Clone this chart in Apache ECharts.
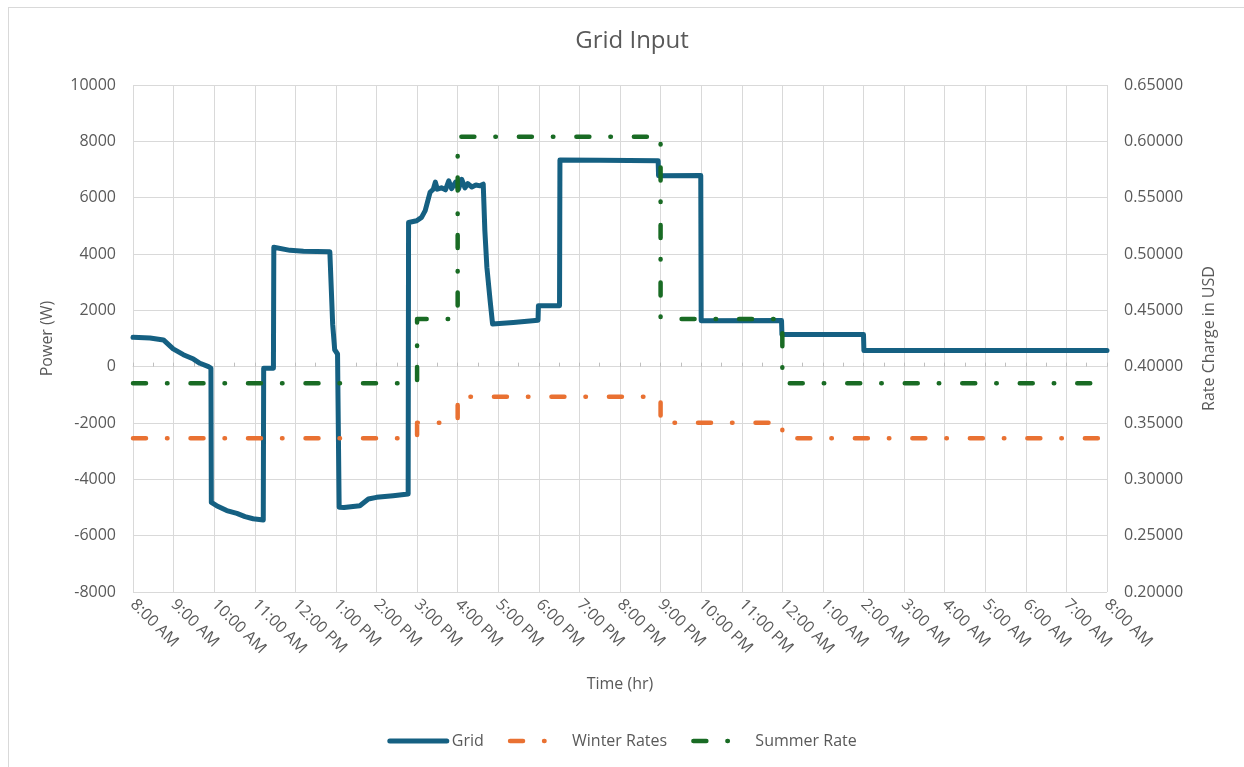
<!DOCTYPE html>
<html>
<head>
<meta charset="utf-8">
<title>Grid Input</title>
<script src="https://cdn.jsdelivr.net/npm/echarts@6/dist/echarts.min.js"></script>
<style>
  html, body { margin: 0; padding: 0; background: #fff; overflow: hidden; }
  #frame { position: absolute; left: 8px; top: 7px; width: 1300px; height: 800px; border: 1.5px solid #d9d9d9; }
  #main { position: absolute; left: 0; top: 0; width: 1244px; height: 767px; }
</style>
</head>
<body>
<div id="frame"></div>
<div id="main"></div>
<script>
// hour ticks, counted from 8:00 AM
var timeLabels = ['8:00 AM', '9:00 AM', '10:00 AM', '11:00 AM', '12:00 PM', '1:00 PM', '2:00 PM',
  '3:00 PM', '4:00 PM', '5:00 PM', '6:00 PM', '7:00 PM', '8:00 PM', '9:00 PM', '10:00 PM',
  '11:00 PM', '12:00 AM', '1:00 AM', '2:00 AM', '3:00 AM', '4:00 AM', '5:00 AM', '6:00 AM',
  '7:00 AM', '8:00 AM'];

// grid power (W), hours since 8:00 AM
var gridHours = [0, 0.42, 0.75, 0.99, 1.24, 1.49, 1.65, 1.86, 1.92, 1.93, 2.06, 2.31, 2.56, 2.76,
  2.96, 3.21, 3.22, 3.46, 3.47, 3.87, 4.2, 4.85, 4.92, 4.97, 5.04, 5.07, 5.08, 5.2, 5.59, 5.8,
  6.0, 6.41, 6.78, 6.79, 6.99, 7.11, 7.2, 7.32, 7.4, 7.45, 7.5, 7.6, 7.7, 7.78, 7.85, 7.95,
  8.02, 8.1, 8.18, 8.25, 8.35, 8.45, 8.55, 8.63, 8.67, 8.72, 8.8, 8.86, 9.37, 9.98, 9.99,
  10.51, 10.52, 11.5, 12.94, 12.95, 13.99, 14.0, 15.98, 15.99, 18.0, 18.01, 24];
var gridWatts = [1040, 1020, 950, 630, 425, 270, 120, 0, -50, -4820, -4935, -5110, -5210, -5325,
  -5400, -5440, -60, -60, 4240, 4130, 4100, 4080, 1500, 600, 450, 380, -4990, -5000, -4935, -4700,
  -4640, -4580, -4520, 5120, 5180, 5300, 5540, 6190, 6300, 6550, 6300, 6350, 6280, 6600, 6320, 6550,
  6300, 6650, 6350, 6500, 6380, 6450, 6420, 6480, 4830, 3530, 2340, 1515, 1570, 1650, 2165,
  2165, 7340, 7330, 7310, 6780, 6790, 1630, 1640, 1140, 1140, 570, 570];

// rate schedule (USD), hours since 8:00 AM
var rateHours = [0, 7, 7, 8, 8, 13, 13, 16, 16, 24];
var winterRates = [0.3364, 0.3364, 0.3503, 0.3503, 0.3733, 0.3733, 0.3503, 0.3503, 0.3364, 0.3364];
var summerRates = [0.3852, 0.3852, 0.4423, 0.4423, 0.6041, 0.6041, 0.4423, 0.4423, 0.3852, 0.3852];

function pairs(xs, ys) {
  return xs.map(function (x, i) { return [x, ys[i]]; });
}

var textColor = '#595959';
var font = '"Open Sans", "Liberation Sans", sans-serif';
var dashDot = [13, 21, 0.5, 23];

var chart = echarts.init(document.getElementById('main'), null, { renderer: 'canvas' });

var option = {
  animation: false,
  textStyle: { fontFamily: font, color: textColor },
  title: {
    text: 'Grid Input',
    left: 627,
    textAlign: 'center',
    top: 24,
    textStyle: { fontFamily: font, fontSize: 24, fontWeight: 'normal', color: textColor }
  },
  grid: { left: 133, right: 137, top: 85, bottom: 175, containLabel: false },
  legend: {
    bottom: 13,
    left: 'center',
    itemWidth: 57,
    itemHeight: 10,
    itemGap: 24,
    textStyle: { fontFamily: font, fontSize: 16, color: textColor },
    // hide the marker circle, keep only the line sample
    itemStyle: { color: 'rgba(0,0,0,0)', borderWidth: 0, opacity: 0 },
    lineStyle: { width: 'inherit' },
    data: ['Grid', 'Winter Rates', 'Summer Rate']
  },
  xAxis: [
    {
      type: 'value',
      min: 0,
      max: 24,
      interval: 1,
      position: 'bottom',
      name: 'Time (hr)',
      nameLocation: 'middle',
      nameGap: 84,
      nameTextStyle: { fontFamily: font, fontSize: 16, color: textColor },
      axisLine: { show: false, onZero: false },
      axisTick: { show: false },
      axisLabel: {
        rotate: -45,
        margin: 10,
        fontFamily: font,
        fontSize: 16,
        color: textColor,
        formatter: function (v) { return timeLabels[Math.round(v)]; }
      },
      splitLine: { show: true, lineStyle: { color: '#d9d9d9', width: 1 } }
    },
    {
      // axis line through zero with half-hour ticks
      type: 'value',
      min: 0,
      max: 24,
      interval: 0.5,
      position: 'bottom',
      axisLine: { show: true, onZero: true, onZeroAxisIndex: 0, lineStyle: { color: '#d9d9d9', width: 1 } },
      axisTick: { show: true, inside: true, length: 4, lineStyle: { color: '#bfbfbf', width: 1 } },
      axisLabel: { show: false },
      splitLine: { show: false }
    }
  ],
  yAxis: [
    {
      type: 'value',
      min: -8000,
      max: 10000,
      interval: 2000,
      position: 'left',
      name: 'Power (W)',
      nameLocation: 'middle',
      nameRotate: 90,
      nameGap: 78,
      nameTextStyle: { fontFamily: font, fontSize: 16, color: textColor },
      axisLine: { show: false, onZero: false },
      axisTick: { show: false },
      axisLabel: {
        margin: 17,
        fontFamily: font,
        fontSize: 16,
        color: textColor,
        formatter: function (v) { return String(v); }
      },
      splitLine: { show: true, lineStyle: { color: '#d9d9d9', width: 1 } }
    },
    {
      type: 'value',
      min: 0.2,
      max: 0.65,
      interval: 0.05,
      position: 'right',
      name: 'Rate Charge in USD',
      nameLocation: 'middle',
      nameRotate: 90,
      nameGap: 94,
      nameTextStyle: { fontFamily: font, fontSize: 16, color: textColor },
      axisLine: { show: false, onZero: false },
      axisTick: { show: false },
      axisLabel: {
        margin: 17,
        fontFamily: font,
        fontSize: 16,
        color: textColor,
        formatter: function (v) { return v.toFixed(5); }
      },
      splitLine: { show: false }
    }
  ],
  series: [
    {
      name: 'Grid',
      type: 'line',
      data: pairs(gridHours, gridWatts),
      symbol: 'none',
      showSymbol: false,
      color: '#156082',
      lineStyle: { color: '#156082', width: 5, join: 'round', cap: 'round' }
    },
    {
      name: 'Winter Rates',
      type: 'line',
      yAxisIndex: 1,
      data: pairs(rateHours, winterRates),
      symbol: 'none',
      showSymbol: false,
      color: '#E97132',
      lineStyle: { color: '#E97132', width: 4.5, type: dashDot, cap: 'round', join: 'round' }
    },
    {
      name: 'Summer Rate',
      type: 'line',
      yAxisIndex: 1,
      data: pairs(rateHours, summerRates),
      symbol: 'none',
      showSymbol: false,
      color: '#196B24',
      lineStyle: { color: '#196B24', width: 4.5, type: dashDot, cap: 'round', join: 'round' }
    }
  ]
};

chart.setOption(option);
</script>
</body>
</html>
